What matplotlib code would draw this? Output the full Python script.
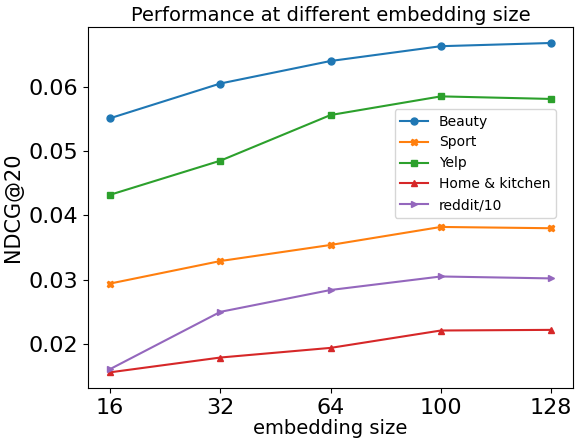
import matplotlib
matplotlib.use("Agg")
import matplotlib.pyplot as plt

sizes = ["16", "32", "64", "100", "128"]
beauty = [0.0551, 0.0605, 0.0640, 0.0663, 0.0668]
sport = [0.0294, 0.0329, 0.0354, 0.0382, 0.0380]
yelp = [0.0432, 0.0485, 0.0556, 0.0585, 0.0581]
home = [0.0156, 0.0179, 0.0194, 0.0221, 0.0222]
reddit = [0.0161, 0.0250, 0.0284, 0.0305, 0.0302]

fig = plt.figure(figsize=(5.81, 4.41), dpi=100)
ax = fig.add_axes([0.1515, 0.120, 0.835, 0.819])

x = list(range(len(sizes)))
ms = 5
ax.plot(x, beauty, marker="o", markersize=ms, color="#1f77b4", label="Beauty")
ax.plot(x, sport, marker="X", markersize=ms, color="#ff7f0e", label="Sport")
ax.plot(x, yelp, marker="s", markersize=ms, color="#2ca02c", label="Yelp")
ax.plot(x, home, marker="^", markersize=ms, color="#d62728", label="Home & kitchen")
ax.plot(x, reddit, marker=">", markersize=ms, color="#9467bd", label="reddit/10")

ax.set_xticks(x)
ax.set_xticklabels(sizes)
ax.set_xlim(-0.2, 4.2)
ax.set_ylim(0.01315, 0.0693)
ax.set_yticks([0.02, 0.03, 0.04, 0.05, 0.06])
ax.tick_params(labelsize=16)
ax.set_xlabel("embedding size", fontsize=14, labelpad=1)
ax.set_ylabel("NDCG@20", fontsize=15)
ax.set_title("Performance at different embedding size", fontsize=14, pad=4)
ax.legend(loc="upper right", bbox_to_anchor=(0.979, 0.792), fontsize=10)

fig.savefig("out.png", dpi=100)
